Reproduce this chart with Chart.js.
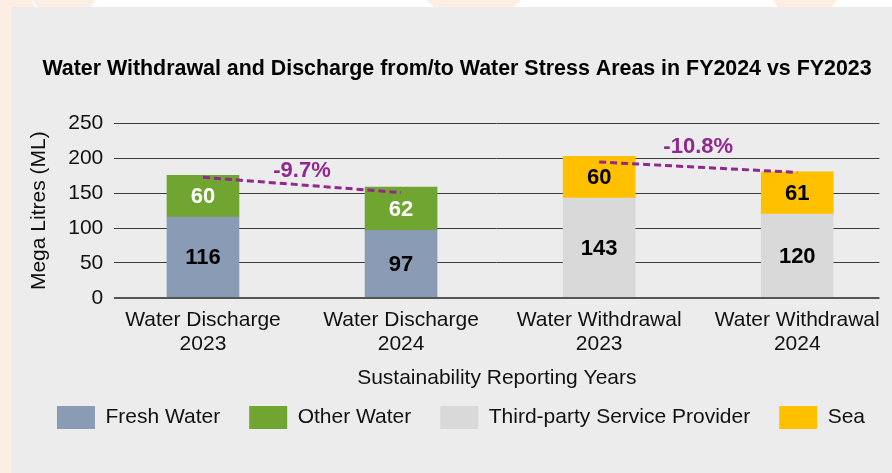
<!DOCTYPE html>
<html lang="en">
<head>
  <meta charset="UTF-8">
  <title>Water Withdrawal and Discharge</title>
  <script src="https://cdn.jsdelivr.net/npm/chart.js"></script>
  <style>
    html, body { margin: 0; padding: 0; background: #fff; overflow: hidden; }
    .blob { position: absolute; background: #fdeee4; border-radius: 50%; }
    .panel { position: absolute; left: 11px; top: 7px; right: 0; bottom: 0; background: #ececec; }
    #wrap { position: absolute; left: 0; top: 0; width: 892px; height: 473px; }
  </style>
</head>
<body>
  <!-- soft peach shapes peeking out around the grey panel -->
  <div class="blob" style="left:-60px; top:-40px; width:120px; height:520px;"></div>
  <div class="blob" style="left:28px; top:-60px; width:72px; height:80px;"></div>
  <div class="blob" style="left:420px; top:-60px; width:108px; height:80px;"></div>
  <div class="blob" style="left:770px; top:-50px; width:70px; height:70px;"></div>
  <div class="panel"></div>
  <div id="wrap"><canvas id="chart" width="892" height="473"></canvas></div>

  <script>
// Categories and series
const categories = [
  ['Water Discharge', '2023'],
  ['Water Discharge', '2024'],
  ['Water Withdrawal', '2023'],
  ['Water Withdrawal', '2024']
];
const freshWater = [116, 97, null, null];
const otherWater = [60, 62, null, null];
const thirdParty = [null, null, 143, 120];
const sea = [null, null, 60, 61];

// dashed trend lines between the two years of each group
const dischargeTrend = [173, 151, null, null];
const withdrawalTrend = [null, null, 195, 180];
const changeLabels = ['-9.7%', '-10.8%'];

const yTicks = [0, 50, 100, 150, 200, 250];

const FONT = "'Liberation Sans', Arial, sans-serif";
const PURPLE = '#91278f';

// bars sit on a numeric x axis (one unit per category) so the spacing can be tuned
const points = arr => arr.map((v, i) => ({ x: i, y: v })).filter(p => p.y !== null);

// value labels inside the bar segments plus the percentage change labels
const labelPlugin = {
  id: 'labels',
  afterLayout(chart) {
    // nudge the title and legend a little to the right
    chart.titleBlock.left += 14;
    chart.titleBlock.right += 14;
    chart.legend.left += 18;
    chart.legend.right += 18;
  },
  afterDatasetsDraw(chart) {
    const ctx = chart.ctx;
    ctx.save();
    ctx.textAlign = 'center';
    ctx.textBaseline = 'middle';
    ctx.font = 'bold 22px ' + FONT;
    chart.data.datasets.forEach((ds, di) => {
      if (ds.type === 'line') return;
      const meta = chart.getDatasetMeta(di);
      meta.data.forEach((bar, i) => {
        const v = ds.data[i].y;
        const p = bar.getProps(['x', 'y', 'base'], true);
        ctx.fillStyle = ds.labelColor;
        ctx.fillText(String(v), p.x, (p.y + p.base) / 2 + 1);
      });
    });

    ctx.fillStyle = PURPLE;
    const x = chart.scales.x, y = chart.scales.y;
    const lift = [14, 20];
    [[dischargeTrend, 0], [withdrawalTrend, 2]].forEach(([trend, i], k) => {
      const mx = (x.getPixelForValue(i) + x.getPixelForValue(i + 1)) / 2;
      const my = y.getPixelForValue((trend[i] + trend[i + 1]) / 2) - lift[k];
      ctx.fillText(changeLabels[k], mx, my);
    });
    ctx.restore();
  }
};

new Chart(document.getElementById('chart'), {
  type: 'bar',
  data: {
    datasets: [
      { label: 'Fresh Water', data: points(freshWater), backgroundColor: '#8a9bb5', stack: 'bars', labelColor: '#000', order: 2 },
      { label: 'Other Water', data: points(otherWater), backgroundColor: '#71a532', stack: 'bars', labelColor: '#fff', order: 2 },
      { label: 'Third-party Service Provider', data: points(thirdParty), backgroundColor: '#d9d9d9', stack: 'bars', labelColor: '#000', order: 2 },
      { label: 'Sea', data: points(sea), backgroundColor: '#ffc000', stack: 'bars', labelColor: '#000', order: 2 },
      { type: 'line', label: 'trend-d', data: points(dischargeTrend), stack: 't1', borderColor: PURPLE,
        borderWidth: 3, borderDash: [7, 4], pointRadius: 0, fill: false, order: 1 },
      { type: 'line', label: 'trend-w', data: points(withdrawalTrend), stack: 't2', borderColor: PURPLE,
        borderWidth: 3, borderDash: [7, 4], pointRadius: 0, fill: false, order: 1 }
    ]
  },
  options: {
    responsive: false,
    animation: false,
    layout: { padding: { left: 6, right: 12, top: 0, bottom: 34 } },
    datasets: { bar: { barThickness: 72 } },
    plugins: {
      title: {
        display: true,
        text: 'Water Withdrawal and Discharge from/to Water Stress Areas in FY2024 vs FY2023',
        color: '#000',
        font: { family: FONT, size: 21.4, weight: 'bold' },
        padding: { top: 56, bottom: 42 }
      },
      legend: {
        position: 'bottom',
        labels: {
          color: '#111',
          font: { family: FONT, size: 21 },
          boxWidth: 38,
          boxHeight: 23,
          padding: 29,
          filter: item => !item.text.startsWith('trend')
        }
      },
      tooltip: { enabled: false }
    },
    scales: {
      x: {
        type: 'linear',
        stacked: true,
        offset: false,
        min: -0.448,
        max: 3.415,
        afterBuildTicks: axis => { axis.ticks = categories.map((c, i) => ({ value: i })); },
        grid: { display: false, drawTicks: false, offset: false },
        border: { display: false },
        ticks: {
          color: '#111',
          font: { family: FONT, size: 21, lineHeight: 1.12 },
          padding: 11,
          maxRotation: 0,
          autoSkip: false,
          callback: v => categories[v]
        },
        title: {
          display: true,
          text: 'Sustainability Reporting Years',
          color: '#111',
          font: { family: FONT, size: 21 },
          padding: { top: -1, bottom: -14 }
        }
      },
      y: {
        stacked: true,
        min: 0,
        max: 250,
        afterBuildTicks: axis => { axis.ticks = yTicks.map(v => ({ value: v })); },
        grid: {
          color: ctx => ctx.tick && ctx.tick.value === 0 ? '#555' : '#3c3c3c',
          lineWidth: ctx => ctx.tick && ctx.tick.value === 0 ? 2 : 1,
          drawTicks: false
        },
        border: { display: false },
        ticks: { color: '#111', font: { family: FONT, size: 21 }, padding: 11 },
        title: {
          display: true,
          text: 'Mega Litres (ML)',
          color: '#111',
          font: { family: FONT, size: 21 },
          padding: { top: 21, bottom: 5 }
        }
      }
    }
  },
  plugins: [labelPlugin]
});
  </script>
</body>
</html>
